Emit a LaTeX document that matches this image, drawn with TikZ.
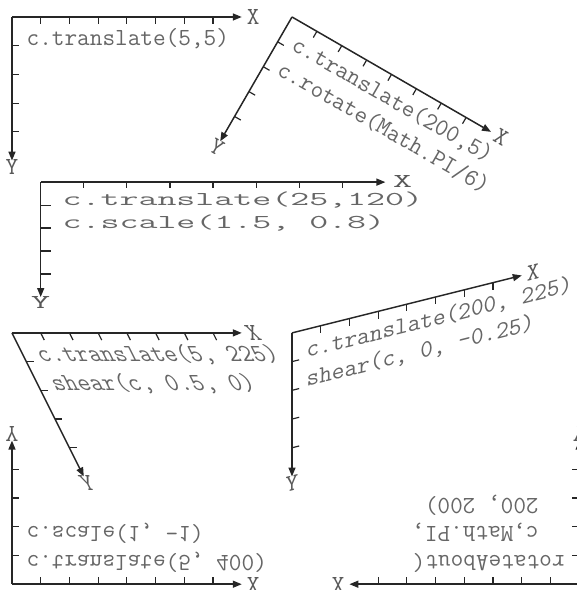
\documentclass[tikz,border=0pt]{standalone}
\usepackage{fontspec}
\usetikzlibrary{arrows.meta}
\tikzset{
  axisline/.style={draw=black!85, line width=1.5pt, -{Triangle[length=9pt,width=7pt]}},
  tickline/.style={draw=black!85, line width=1.2pt},
  codetext/.style={text=black!60, font=\ttfamily\fontsize{17.1}{17.1}\selectfont, inner sep=0pt, anchor=base west, transform shape},
  axislabel/.style={text=black!65, font=\ttfamily\fontsize{17.1}{17.1}\selectfont, inner sep=0pt, anchor=base, transform shape},
}
\newcommand{\axesframe}[1]{%
  \coordinate (#1o) at (0,0);
  \coordinate (#1x) at (160,0);
  \coordinate (#1y) at (0,100);
  \draw[axisline] (#1o) -- (#1x);
  \draw[axisline] (#1o) -- (#1y);
  \foreach \k in {20,40,...,140} {\draw[tickline] (\k,0) -- (\k,5);}
  \foreach \k in {20,40,60,80} {\draw[tickline] (0,\k) -- (5,\k);}
  \node[axislabel] (#1X) at (168,5) {X};
  \node[axislabel] (#1Y) at (0,110) {Y};
}
\begin{document}
\begin{tikzpicture}[x=1pt,y=-1pt]
\useasboundingbox (0,0) rectangle (577,590);
\clip (0,0) rectangle (577,590);
\begin{scope}[shift={(4.8,9.8)}, scale=1.436]
  \begin{scope}[shift={(5,5)}]
    \axesframe{a}
    \node[codetext] (a1) at (10,20) {c.translate(5,5)};
  \end{scope}
  \begin{scope}[shift={(200,5)}, rotate=-30]
    \axesframe{b}
    \node[codetext] (b1) at (10,20) {c.translate(200,5)};
    \node[codetext] (b2) at (10,40) {c.rotate(Math.PI/6)};
  \end{scope}
  \begin{scope}[shift={(25,120)}, xscale=1.5, yscale=0.8]
    \axesframe{c}
    \node[codetext] (c1) at (10,20) {c.translate(25,120)};
    \node[codetext] (c2) at (10,40) {c.scale(1.5, 0.8)};
  \end{scope}
  \begin{scope}[shift={(5,225)}, xslant=-0.5]
    \axesframe{d}
    \node[codetext] (d1) at (10,20) {c.translate(5, 225)};
    \node[codetext] (d2) at (10,40) {shear(c, 0.5, 0)};
  \end{scope}
  \begin{scope}[shift={(200,225)}, yslant=0.25]
    \axesframe{e}
    \node[codetext] (e1) at (10,20) {c.translate(200, 225)};
    \node[codetext] (e2) at (10,40) {shear(c, 0, -0.25)};
  \end{scope}
  \begin{scope}[shift={(5,400)}, yscale=-1]
    \axesframe{f}
    \node[codetext] (f1) at (10,20) {c.translate(5, 400)};
    \node[codetext] (f2) at (10,40) {c.scale(1, -1)};
  \end{scope}
  \begin{scope}[shift={(400,400)}, rotate=180]
    \axesframe{g}
    \node[codetext] (g1) at (10,20) {rotateAbout(};
    \node[codetext] (g2) at (28,40) {c,Math.PI,};
    \node[codetext] (g3) at (28,60) {200, 200)};
  \end{scope}
\end{scope}
\end{tikzpicture}
\end{document}
